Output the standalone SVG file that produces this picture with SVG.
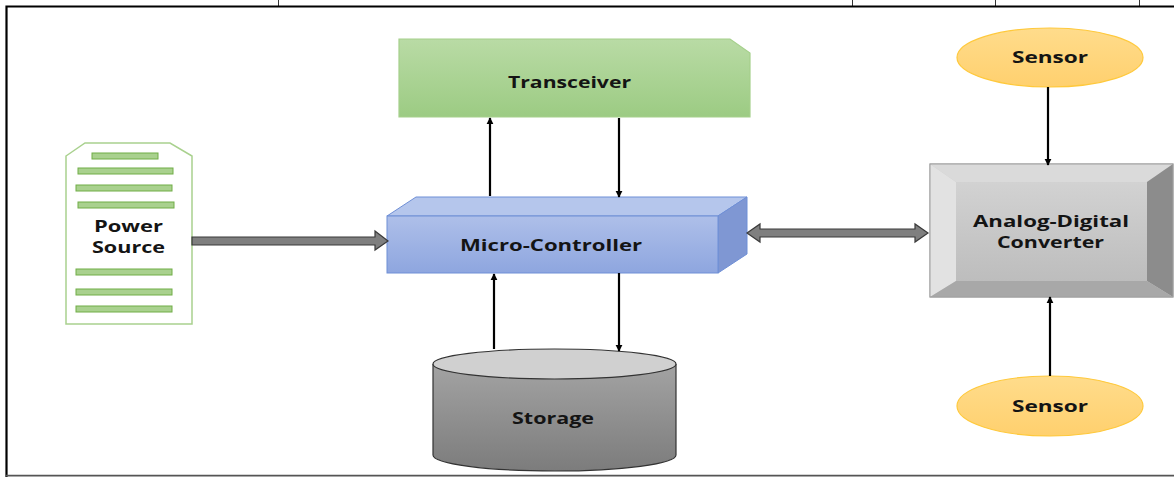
<svg xmlns="http://www.w3.org/2000/svg" width="1174" height="477" viewBox="0 0 1174 477">
<style>
.lbl{font-family:"Open Sans","Liberation Sans",sans-serif;font-weight:bold;font-size:16px;fill:#141414;text-anchor:middle}
.wire{stroke:#000;stroke-width:2.2;fill:none}
.bar{fill:#a9d18e;stroke:#70ad47;stroke-width:1}
.block{fill:#7f7f7f;stroke:#3a3a3a;stroke-width:1.2}
</style>
<defs>
<linearGradient id="gT" x1="0" y1="0" x2="0" y2="1"><stop offset="0" stop-color="#b9dba5"/><stop offset="1" stop-color="#9ccb83"/></linearGradient>
<linearGradient id="gM" x1="0" y1="0" x2="0" y2="1"><stop offset="0" stop-color="#aebfe9"/><stop offset="1" stop-color="#8ea6df"/></linearGradient>
<linearGradient id="gS" x1="0" y1="0" x2="0" y2="1"><stop offset="0" stop-color="#a3a3a3"/><stop offset="1" stop-color="#7c7c7c"/></linearGradient>
<linearGradient id="gY" x1="0" y1="0" x2="0" y2="1"><stop offset="0" stop-color="#ffdc8c"/><stop offset="1" stop-color="#ffd06e"/></linearGradient>
<linearGradient id="gA" x1="0" y1="0" x2="0" y2="1"><stop offset="0" stop-color="#d2d2d2"/><stop offset="1" stop-color="#bdbdbd"/></linearGradient>
<marker id="ah" viewBox="0 0 10 10" refX="9" refY="5" markerWidth="3.2" markerHeight="3.2" orient="auto" markerUnits="strokeWidth">
<path d="M0,0 L10,5 L0,10 z" fill="#000"/>
</marker>
</defs>
<rect x="0" y="0" width="1174" height="477" fill="#fff"/>
<g id="frame">
<path d="M6.5,477 V6.5 H1174" fill="none" stroke="#000" stroke-width="2.2"/>
<line x1="6" y1="475.6" x2="1174" y2="475.6" stroke="#555" stroke-width="1.6"/>
<line x1="278.5" y1="0" x2="278.5" y2="6" stroke="#000" stroke-width="0.8"/>
<line x1="852.5" y1="0" x2="852.5" y2="6" stroke="#000" stroke-width="0.8"/>
<line x1="995.5" y1="0" x2="995.5" y2="6" stroke="#000" stroke-width="0.8"/>
<line x1="1139.5" y1="0" x2="1139.5" y2="6" stroke="#000" stroke-width="0.8"/>
</g>
<g id="transceiver">
<path d="M399,39 H730 L750,53 V117 H399 Z" fill="url(#gT)" stroke="#a6d08c" stroke-width="1.2"/>
<text class="lbl" x="569.5" y="87.5" textLength="123" lengthAdjust="spacingAndGlyphs">Transceiver</text>
</g>
<g id="microcontroller">
<path d="M387,216 L416,197 H747 L718,216 Z" fill="#b5c6ec" stroke="#6f8fd6" stroke-width="1"/>
<path d="M718,216 L747,197 V254 L718,273 Z" fill="#7f97d3" stroke="#6f8fd6" stroke-width="1"/>
<rect x="387" y="216" width="331" height="57" fill="url(#gM)" stroke="#6f8fd6" stroke-width="1"/>
<text class="lbl" x="551" y="251" textLength="182" lengthAdjust="spacingAndGlyphs">Micro-Controller</text>
</g>
<g id="power">
<path d="M66,156 L85,143 H170 L192,156 V324 H66 Z" fill="#fff" stroke="#a9d18e" stroke-width="1.5"/>
<rect class="bar" x="92" y="153" width="66" height="6"/>
<rect class="bar" x="78" y="168" width="95" height="6"/>
<rect class="bar" x="76" y="185" width="96" height="6"/>
<rect class="bar" x="78" y="202" width="96" height="6"/>
<rect class="bar" x="76" y="269" width="96" height="6"/>
<rect class="bar" x="76" y="289" width="96" height="6"/>
<rect class="bar" x="76" y="306" width="96" height="6"/>
<text class="lbl" x="128.5" y="232" textLength="69" lengthAdjust="spacingAndGlyphs">Power</text>
<text class="lbl" x="128.5" y="252.5" textLength="73" lengthAdjust="spacingAndGlyphs">Source</text>
</g>
<g id="storage">
<path d="M433,364 V455 A121.5,16 0 0 0 676,455 V364" fill="url(#gS)" stroke="#333" stroke-width="1.2"/>
<ellipse cx="554.5" cy="364" rx="121.5" ry="15" fill="#d0d0d0" stroke="#333" stroke-width="1.2"/>
<text class="lbl" x="553" y="424" textLength="82" lengthAdjust="spacingAndGlyphs">Storage</text>
</g>
<g id="adc">
<rect x="930" y="164" width="243" height="133" fill="#c9c9c9" stroke="#a0a0a0" stroke-width="1"/>
<path d="M930,164 H1173 L1147,182 H956 Z" fill="#dadada"/>
<path d="M930,164 L956,182 V281 L930,297 Z" fill="#e2e2e2"/>
<path d="M1173,164 V297 L1147,281 V182 Z" fill="#8c8c8c"/>
<path d="M930,297 H1173 L1147,281 H956 Z" fill="#a8a8a8"/>
<rect x="956" y="182" width="191" height="99" fill="url(#gA)"/>
<rect x="930" y="164" width="243" height="133" fill="none" stroke="#a0a0a0" stroke-width="1"/>
<text class="lbl" x="1051" y="227" textLength="156" lengthAdjust="spacingAndGlyphs">Analog-Digital</text>
<text class="lbl" x="1050.5" y="248" textLength="107" lengthAdjust="spacingAndGlyphs">Converter</text>
</g>
<g id="sensor-top">
<ellipse cx="1050" cy="57.5" rx="93" ry="29.5" fill="url(#gY)" stroke="#ffc93c" stroke-width="1.2"/>
<text class="lbl" x="1050" y="63" textLength="76" lengthAdjust="spacingAndGlyphs">Sensor</text>
</g>
<g id="sensor-bottom">
<ellipse cx="1050" cy="406" rx="93" ry="30" fill="url(#gY)" stroke="#ffc93c" stroke-width="1.2"/>
<text class="lbl" x="1050" y="412" textLength="76" lengthAdjust="spacingAndGlyphs">Sensor</text>
</g>
<g id="connectors">
<line class="wire" x1="490" y1="196" x2="490" y2="118" marker-end="url(#ah)"/>
<line class="wire" x1="619" y1="118" x2="619" y2="197" marker-end="url(#ah)"/>
<line class="wire" x1="494" y1="349" x2="494" y2="274" marker-end="url(#ah)"/>
<line class="wire" x1="619" y1="273" x2="619" y2="351" marker-end="url(#ah)"/>
<line class="wire" x1="1048" y1="87" x2="1048" y2="165" marker-end="url(#ah)"/>
<line class="wire" x1="1050" y1="376" x2="1050" y2="297" marker-end="url(#ah)"/>
<path class="block" d="M192,237 H375 V231 L388,241 L375,250 V245 H192 Z"/>
<path class="block" d="M747,233 L760,224 V229 H915 V224 L928,233 L915,242 V237 H760 V242 Z"/>
</g>
</svg>
